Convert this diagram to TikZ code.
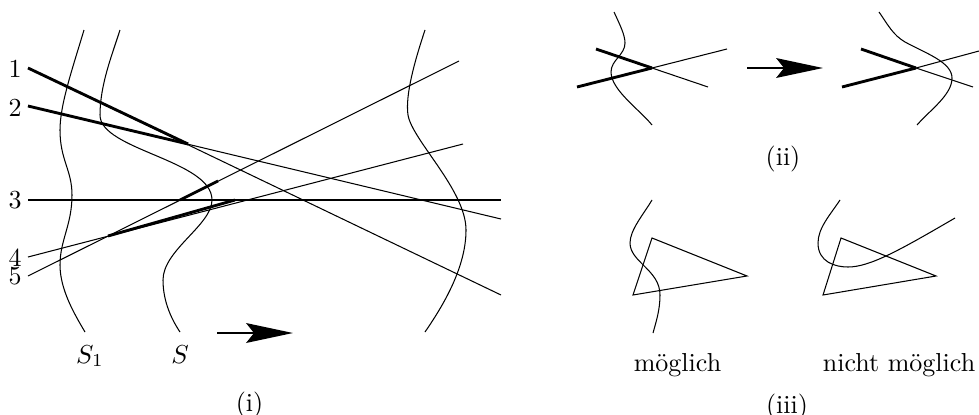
\documentclass[tikz,border=0pt]{standalone}
\usetikzlibrary{arrows.meta}
\begin{document}
\begin{tikzpicture}[x=0.3846pt,y=-0.3846pt,
  thinline/.style={line width=0.4pt},
  thickline/.style={line width=1.1pt},
  curve/.style={line width=0.4pt},
  bigarrow/.style={line width=0.9pt,-{Stealth[length=18pt,width=7.6pt,inset=3pt]}},
  lbl/.style={inner sep=0pt,font=\normalsize}]
\useasboundingbox (0,0) rectangle (979,414);
% ---------- (i) ----------
\draw[curve] (84,30) .. controls (72,70) and (60,105) .. (60,130)
  .. controls (60,160) and (72,170) .. (72,195)
  .. controls (72,225) and (60,240) .. (60,265)
  .. controls (60,290) and (75,315) .. (85,332);
\draw[curve] (120,30) .. controls (112,55) and (100,85) .. (100,115)
  .. controls (100,150) and (212,160) .. (212,200)
  .. controls (212,225) and (163,250) .. (163,280)
  .. controls (163,302) and (172,320) .. (180,332);
\draw[curve] (425,30) .. controls (415,60) and (405,95) .. (408,115)
  .. controls (412,140) and (466,190) .. (466,230)
  .. controls (466,270) and (440,310) .. (425,332);
\coordinate (l1a) at (28,68);   \coordinate (l1b) at (501,295);
\coordinate (l2a) at (28,106);  \coordinate (l2b) at (501,219);
\coordinate (l3a) at (28,200);  \coordinate (l3b) at (501,200);
\coordinate (l4a) at (28,257);  \coordinate (l4b) at (463,144);
\coordinate (l5a) at (28,276);  \coordinate (l5b) at (459,61);
\coordinate (p12) at (188,144);
\coordinate (p45) at (108,236);
\coordinate (q3a) at (180,200);
\coordinate (q3b) at (235,200);
\coordinate (q5) at (218,181);
\draw[thinline] (l1a) -- (l1b);
\draw[thinline] (l2a) -- (l2b);
\draw[thinline] (l3a) -- (l3b);
\draw[thinline] (l4a) -- (l4b);
\draw[thinline] (l5a) -- (l5b);
\draw[thickline] (l1a) -- (p12);
\draw[thickline] (l2a) -- (p12);
\draw[thickline] (q3a) -- (q3b);
\draw[thickline] (q3a) -- (q5);
\draw[thickline] (p45) -- (q3b);
\node[lbl] (n1) at (15,68.5) {1};
\node[lbl] (n2) at (15,107.5) {2};
\node[lbl] (n3) at (15,200) {3};
\node[lbl] (n4) at (15,257.5) {4};
\node[lbl] (n5) at (15,276) {5};
\node[lbl,anchor=base] (s1) at (90,363) {$S_1$};
\node[lbl,anchor=base] (s) at (180,363) {$S$};
\coordinate (a1s) at (217,333); \coordinate (a1e) at (293,333);
\draw[bigarrow] (a1s) -- (a1e);
\node[lbl,anchor=base] (ci) at (249.5,411.5) {(i)};
% ---------- (ii) ----------
\draw[curve] (614,12) .. controls (620,25) and (625,35) .. (625,43)
  .. controls (625,55) and (611,60) .. (611,72)
  .. controls (611,90) and (640,110) .. (652,125);
\coordinate (c2) at (652,68);
\coordinate (a2a) at (596,49);  \coordinate (a2b) at (708,87);
\coordinate (b2a) at (577,87);  \coordinate (b2b) at (727,49);
\draw[thinline] (c2) -- (a2b);
\draw[thinline] (c2) -- (b2b);
\draw[thickline] (a2a) -- (c2);
\draw[thickline] (b2a) -- (c2);
\coordinate (a2s) at (747,68); \coordinate (a2e) at (823,68);
\draw[bigarrow] (a2s) -- (a2e);
\draw[curve] (879,12) .. controls (888,25) and (893,35) .. (905,42)
  .. controls (925,53) and (952,62) .. (952,78)
  .. controls (952,95) and (930,110) .. (917,125);
\coordinate (c3) at (916,68);
\coordinate (a3a) at (861,49);  \coordinate (a3b) at (973,87);
\coordinate (b3a) at (842,87);  \coordinate (b3b) at (979,51);
\draw[thinline] (c3) -- (a3b);
\draw[thinline] (c3) -- (b3b);
\draw[thickline] (a3a) -- (c3);
\draw[thickline] (b3a) -- (c3);
\node[lbl] (cii) at (783,159) {(ii)};
% ---------- (iii) ----------
\coordinate (t1a) at (652,238); \coordinate (t1b) at (747,276); \coordinate (t1c) at (633,295);
\draw[thinline,line join=miter] (t1a) -- (t1b) -- (t1c) -- cycle;
\draw[curve] (652,200) .. controls (643,215) and (630,230) .. (630,243)
  .. controls (630,262) and (660,270) .. (660,295)
  .. controls (660,310) and (656,322) .. (653,333);
\coordinate (t2a) at (841,238); \coordinate (t2b) at (936,276); \coordinate (t2c) at (823,295);
\draw[thinline,line join=miter] (t2a) -- (t2b) -- (t2c) -- cycle;
\draw[curve] (840,200) .. controls (830,215) and (818,228) .. (818,243)
  .. controls (818,262) and (835,267) .. (848,267)
  .. controls (870,267) and (900,250) .. (955,218);
\node[lbl,anchor=base] (m1) at (677.5,371) {möglich};
\node[lbl,anchor=base] (m2) at (899,371) {nicht möglich};
\node[lbl,anchor=base] (ciii) at (787,413) {(iii)};
\end{tikzpicture}
\end{document}
